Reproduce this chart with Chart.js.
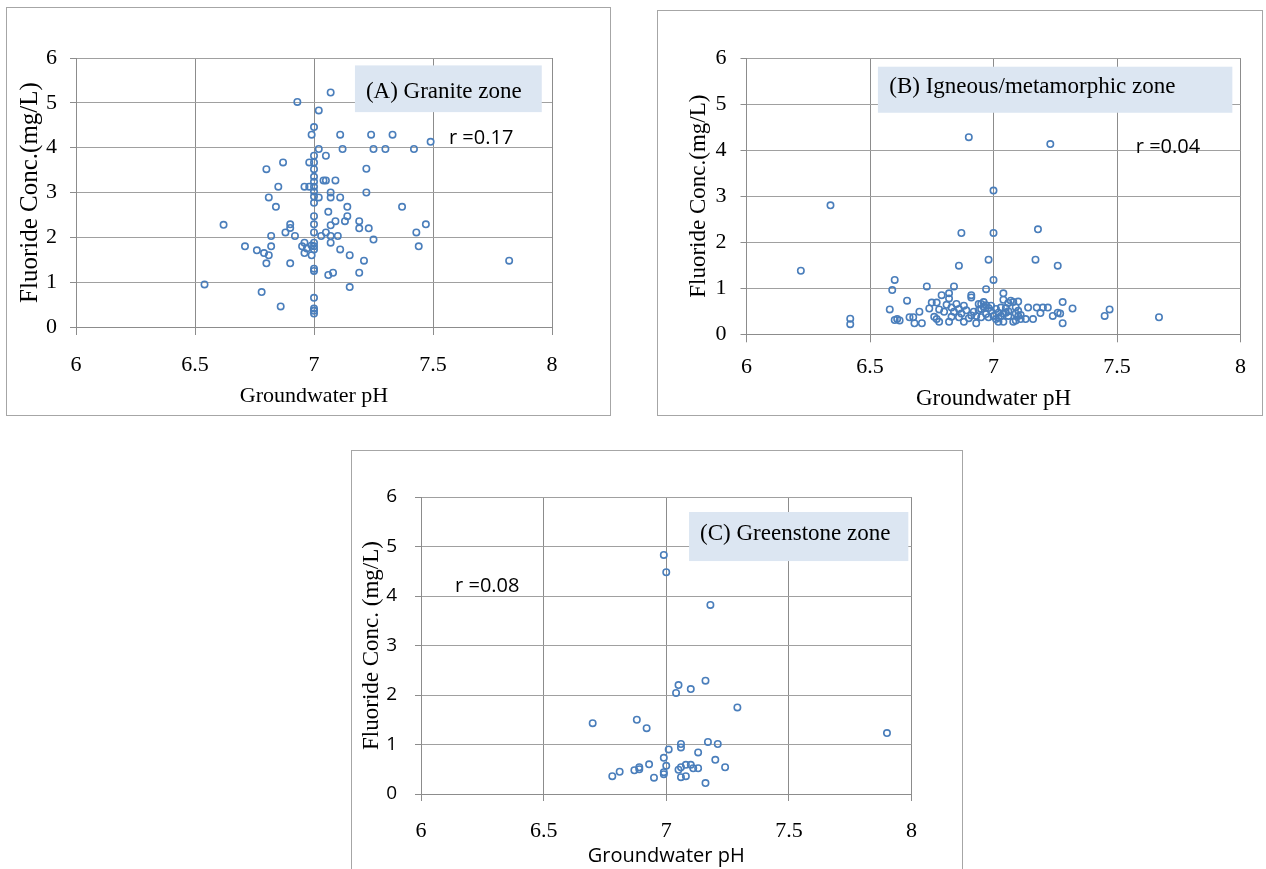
<!DOCTYPE html>
<html>
<head>
<meta charset="utf-8">
<script src="https://cdn.jsdelivr.net/npm/chart.js@4.4.0/dist/chart.umd.min.js"></script>
<style>
  html, body { margin: 0; padding: 0; background: #fff; overflow: hidden; }
  .panel { position: absolute; border: 1px solid #a6a6a6; }
  .panel canvas { display: block; }
</style>
</head>
<body>
<div class="panel" style="left:6px;top:7px;"><canvas id="chartA" width="603" height="407"></canvas></div>
<div class="panel" style="left:657px;top:10px;"><canvas id="chartB" width="604" height="404"></canvas></div>
<div class="panel" style="left:351px;top:450px;"><canvas id="chartC" width="610" height="428"></canvas></div>
<script>
// axis ticks
const xTicks = [6, 6.5, 7, 7.5, 8];
const yTicks = [0, 1, 2, 3, 4, 5, 6];

// (pH, fluoride mg/L)
const granite = [
  [6.54,0.95],[6.62,2.28],[6.71,1.80],[6.76,1.71],[6.79,1.65],[6.81,1.60],[6.80,1.42],[6.82,1.80],[6.82,2.03],[6.78,0.78],
  [6.86,0.46],[6.90,1.42],[6.80,3.52],[6.87,3.67],[6.85,3.13],[6.81,2.89],[6.84,2.68],[6.88,2.11],[6.90,2.29],[6.90,2.21],
  [6.92,2.03],[6.93,5.02],[6.95,1.80],[6.96,1.88],[6.96,1.65],[6.97,1.75],[6.99,1.60],[6.96,3.13],[6.98,3.13],[6.98,3.67],
  [6.99,4.29],[6.99,1.82],
  [7,4.46],[7,3.82],[7,3.67],[7,3.52],[7,3.35],[7,3.24],[7,3.13],[7,3.02],[7,2.91],[7,2.77],[7,2.47],[7,2.29],[7,2.11],
  [7,1.88],[7,1.80],[7,1.73],[7,1.30],[7,1.25],[7,0.65],[7,0.41],[7,0.36],[7,0.30],
  [7.07,5.23],[7.02,4.83],[7.11,4.29],[7.24,4.29],[7.33,4.29],[7.02,3.97],[7.12,3.97],[7.25,3.97],[7.30,3.97],[7.42,3.97],
  [7.49,4.13],[7.05,3.82],[7.22,3.53],[7.04,3.27],[7.05,3.27],[7.09,3.27],[7.07,3.00],[7.02,2.89],[7.07,2.89],[7.11,2.89],
  [7.22,3.00],[7.37,2.68],[7.14,2.68],[7.14,2.47],[7.06,2.57],[7.13,2.36],[7.09,2.36],[7.07,2.27],[7.19,2.36],[7.19,2.20],
  [7.23,2.20],[7.25,1.95],[7.47,2.29],[7.43,2.11],[7.44,1.80],[7.03,2.03],[7.05,2.11],[7.07,2.03],[7.10,2.03],[7.11,1.73],
  [7.07,1.88],[7.15,1.60],[7.21,1.48],[7.06,1.16],[7.08,1.21],[7.19,1.21],[7.15,0.89],[7.82,1.48]
];

const igneous = [
  [6.22,1.38],[6.34,2.80],[6.42,0.34],[6.42,0.22],[6.90,4.28],[7.00,3.12],[6.87,2.20],[7.00,2.20],[6.86,1.49],[6.98,1.62],
  [7.00,1.18],[6.60,1.18],[6.73,1.04],[6.84,1.04],[6.97,0.98],[7.23,4.13],[7.18,2.28],[7.17,1.62],[7.26,1.49],[7.67,0.37],
  [7.45,0.40],[7.47,0.54],
  [6.59,0.96],[6.58,0.54],[6.60,0.31],[6.62,0.30],[6.61,0.33],[6.65,0.73],[6.66,0.37],[6.675,0.37],[6.68,0.24],[6.70,0.49],
  [6.71,0.24],[6.74,0.56],[6.75,0.69],[6.77,0.69],[6.76,0.38],[6.77,0.33],[6.78,0.27],[6.79,0.85],[6.78,0.54],[6.80,0.49],
  [6.81,0.64],[6.82,0.89],[6.82,0.27],[6.82,0.78],[6.83,0.38],[6.84,0.49],[6.85,0.66],[6.86,0.37],[6.87,0.45],[6.88,0.62],
  [6.88,0.27],[6.89,0.52],[6.91,0.85],[6.91,0.80],[6.91,0.41],[6.92,0.49],[6.93,0.24],[6.94,0.66],[6.95,0.66],[6.95,0.37],
  [6.95,0.55],[6.96,0.70],[6.97,0.44],[6.98,0.57],[6.98,0.37],[6.99,0.51],[7.00,0.40],[7.01,0.33],[7.02,0.27],[7.02,0.47],
  [7.03,0.40],[7.04,0.75],[7.04,0.89],[7.04,0.27],[7.05,0.57],[7.05,0.47],[7.06,0.68],[7.06,0.40],[7.06,0.50],[7.07,0.73],
  [7.08,0.27],[7.08,0.70],[7.09,0.45],[7.09,0.59],[7.10,0.51],[7.11,0.33],
  [6.94,0.52],[6.96,0.60],[6.97,0.63],[7.01,0.55],[7.03,0.58],[6.99,0.62],[6.93,0.40],[6.90,0.35],[6.86,0.55],[6.83,0.58],
  [7.02,0.36],[7.04,0.45],
  [7.28,0.70],[7.28,0.24],[7.32,0.56],[7.27,0.45],[7.26,0.47],[7.24,0.40],[7.22,0.58],[7.20,0.58],[7.175,0.58],[7.19,0.46],
  [7.16,0.33],[7.14,0.58],[7.13,0.33],[7.11,0.42],[7.10,0.40],[7.10,0.71],[7.09,0.30]
];

const greenstone = [
  [6.99,4.83],[7.00,4.48],[6.70,1.43],[6.88,1.50],[6.92,1.33],[7.01,0.90],[6.99,0.73],[7.00,0.57],[6.99,0.44],[6.99,0.40],
  [6.93,0.60],[6.95,0.33],[6.89,0.54],[6.89,0.50],[6.87,0.48],[6.81,0.45],[6.78,0.36],[7.18,3.82],[7.05,2.20],[7.04,2.04],
  [7.10,2.12],[7.16,2.29],[7.29,1.75],[7.90,1.23],[7.17,1.05],[7.21,1.01],[7.06,1.01],[7.06,0.94],[7.13,0.84],[7.20,0.69],
  [7.24,0.54],[7.08,0.59],[7.10,0.59],[7.11,0.52],[7.13,0.52],[7.05,0.49],[7.06,0.54],[7.06,0.34],[7.08,0.36],[7.16,0.22]
];

const zoneTitles = ['(A) Granite zone', '(B) Igneous/metamorphic zone', '(C) Greenstone zone'];
const rLabels = ['r =0.17', 'r =0.04', 'r =0.08'];

const SERIF = "'Liberation Serif', 'Times New Roman', serif";
const SANS = "'Open Sans', sans-serif";
const VGRID = '#8c8c8c';
const HGRID = '#a0a0a0';

// shaded zone label + r value, placed in data units
const zoneLabel = {
  id: 'zoneLabel',
  beforeDatasetsDraw(chart, args, o) {
    const {ctx, scales: {x, y}} = chart;
    const x0 = x.getPixelForValue(o.box[0]), x1 = x.getPixelForValue(o.box[1]);
    const y0 = y.getPixelForValue(o.box[3]), y1 = y.getPixelForValue(o.box[2]);
    ctx.save();
    ctx.fillStyle = '#dce6f2';
    ctx.fillRect(x0, y0, x1 - x0, y1 - y0);
    ctx.fillStyle = '#000';
    ctx.textBaseline = 'alphabetic';
    ctx.textAlign = 'left';
    ctx.font = '23px ' + SERIF;
    ctx.fillText(o.title, x.getPixelForValue(o.titleAt[0]), y.getPixelForValue(o.titleAt[1]));
    ctx.font = '20px ' + SANS;
    ctx.fillText(o.r, x.getPixelForValue(o.rAt[0]), y.getPixelForValue(o.rAt[1]));
    ctx.restore();
  }
};

function makeChart(id, points, c) {
  return new Chart(document.getElementById(id), {
    type: 'scatter',
    data: {
      datasets: [{
        data: points.map(p => ({x: p[0], y: p[1]})),
        pointRadius: 3.2,
        pointBorderWidth: 1.6,
        pointBorderColor: '#4a7ebb',
        pointBackgroundColor: 'rgba(0,0,0,0)',
        showLine: false
      }]
    },
    options: {
      responsive: false,
      animation: false,
      events: [],
      layout: { padding: { left: 0, top: c.top, right: c.right, bottom: 0 } },
      plugins: {
        legend: { display: false },
        tooltip: { enabled: false },
        zoneLabel: c.label
      },
      scales: {
        x: {
          type: 'linear', min: 6, max: 8,
          afterBuildTicks: s => { s.ticks = xTicks.map(v => ({value: v})); },
          afterFit: s => { s.height = c.xh; },
          ticks: {
            autoSkip: false, maxRotation: 0, minRotation: 0, color: '#000', padding: c.xPad,
            font: { family: SERIF, size: 22 },
            callback: v => String(v)
          },
          grid: { color: VGRID, lineWidth: 1, tickLength: c.xTick, tickColor: VGRID },
          border: { color: VGRID },
          title: {
            display: true, text: 'Groundwater pH', color: '#000',
            font: c.xTitleFont, padding: { top: 0, bottom: c.xTitlePad }
          }
        },
        y: {
          min: 0, max: 6,
          afterBuildTicks: s => { s.ticks = yTicks.map(v => ({value: v})); },
          afterFit: s => { s.width = c.yw; },
          ticks: {
            color: '#000', padding: c.yPad, font: c.yTickFont,
            callback: v => String(v)
          },
          grid: { color: HGRID, lineWidth: 1, tickLength: 6, tickColor: VGRID },
          border: { color: VGRID },
          title: {
            display: true, text: c.yTitle, color: '#000',
            font: c.yTitleFont, padding: { top: c.yTitlePad, bottom: 0 }
          }
        }
      }
    },
    plugins: [zoneLabel]
  });
}

makeChart('chartA', granite, {
  top: 50, right: 58, yw: 69, xh: 88,
  xPad: 17, xTick: 8, yPad: 13,
  yTickFont: { family: SERIF, size: 22 },
  xTitleFont: { family: SERIF, size: 22 }, xTitlePad: 6,
  yTitle: 'Fluoride Conc.(mg/L)', yTitleFont: { family: SERIF, size: 25 }, yTitlePad: 8,
  label: { box: [7.172, 7.957, 4.793, 5.835], title: zoneTitles[0], titleAt: [7.218, 5.115], r: rLabels[0], rAt: [7.567, 4.085] }
});

makeChart('chartB', igneous, {
  top: 47, right: 21.5, yw: 88.5, xh: 80.7,
  xPad: 12, xTick: 8, yPad: 14,
  yTickFont: { family: SERIF, size: 22 },
  xTitleFont: { family: SERIF, size: 23 }, xTitlePad: 2,
  yTitle: 'Fluoride Conc.(mg/L)', yTitleFont: { family: SERIF, size: 23 }, yTitlePad: 27,
  label: { box: [6.532, 7.967, 4.811, 5.811], title: zoneTitles[1], titleAt: [6.578, 5.248], r: rLabels[1], rAt: [7.576, 3.935] }
});

makeChart('chartC', greenstone, {
  top: 46, right: 50.5, yw: 69, xh: 85,
  xPad: 17, xTick: 7, yPad: 18,
  yTickFont: { family: SANS, size: 19 },
  xTitleFont: { family: SANS, size: 20 }, xTitlePad: 11,
  yTitle: 'Fluoride Conc. (mg/L)', yTitleFont: { family: SERIF, size: 23 }, yTitlePad: 6,
  label: { box: [7.093, 7.987, 4.706, 5.697], title: zoneTitles[2], titleAt: [7.138, 5.128], r: rLabels[2], rAt: [6.139, 4.071] }
});
</script>
</body>
</html>
